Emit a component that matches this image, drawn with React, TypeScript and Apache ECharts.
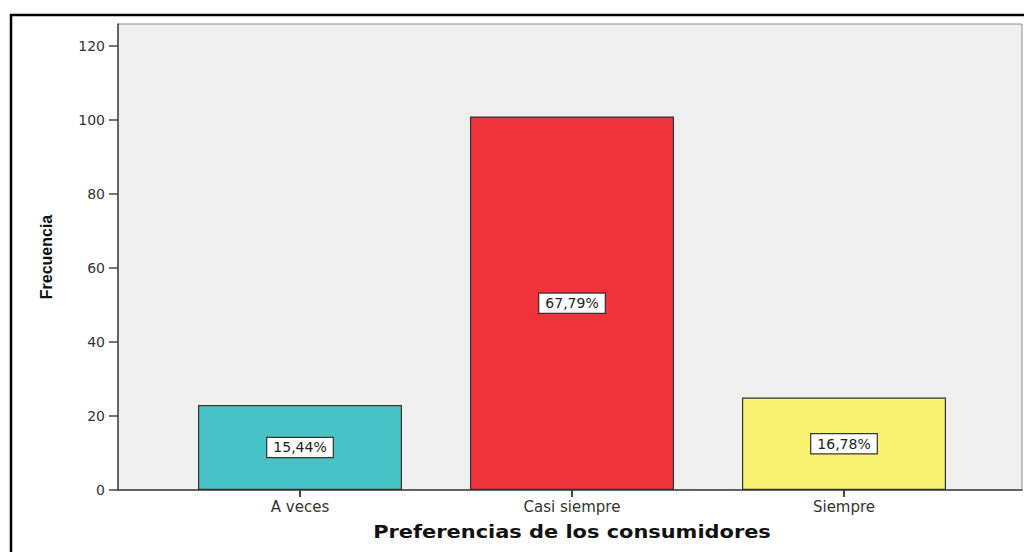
import React, { useEffect, useRef } from "react";
import * as echarts from "echarts";

const categories = ["A veces", "Casi siempre", "Siempre"];
const frequencies = [23, 101, 25];
const percentLabels = ["15,44%", "67,79%", "16,78%"];
const barColors = ["#48c3c5", "#f0323b", "#f8f472"];
const yTicks = [0, 20, 40, 60, 80, 100, 120];
const yMax = 126;
const xTitle = "Preferencias de los consumidores";
const yTitle = "Frecuencia";

export default function App() {
  const ref = useRef<HTMLDivElement>(null);
  useEffect(() => {
    if (!ref.current) return;
    const chart = echarts.init(ref.current, undefined, { renderer: "svg" });
    const font = "'DejaVu Sans', sans-serif";
    chart.setOption({
      animation: false,
      backgroundColor: "#ffffff",
      grid: [
        {
          left: 118,
          top: 24,
          width: 904,
          height: 466,
          show: true,
          backgroundColor: "#efefef",
          borderColor: "#8a8a8a",
          borderWidth: 1,
        },
        { left: 164, top: 24, width: 816, height: 466 },
      ],
      xAxis: [
        {
          type: "category",
          gridIndex: 0,
          data: [""],
          axisLine: { show: true, lineStyle: { color: "#444", width: 1.5 } },
          axisTick: { show: false },
          axisLabel: { show: false },
          splitLine: { show: false },
        },
        {
          type: "category",
          gridIndex: 1,
          data: categories,
          axisLine: { show: false },
          axisTick: {
            show: true,
            alignWithLabel: true,
            length: 7,
            lineStyle: { color: "#444", width: 2 },
          },
          axisLabel: {
            fontFamily: font,
            fontSize: 15,
            color: "#333",
            margin: 9,
          },
        },
      ],
      yAxis: [
        {
          type: "value",
          gridIndex: 0,
          min: 0,
          max: yMax,
          axisLine: { show: true, lineStyle: { color: "#444", width: 1.5 } },
          axisTick: {
            show: true,
            inside: false,
            length: 9,
            customValues: yTicks,
            lineStyle: { color: "#444", width: 1.5 },
          },
          axisLabel: {
            customValues: yTicks,
            fontFamily: font,
            fontSize: 14,
            color: "#333",
            margin: 13,
          },
          splitLine: { show: false },
          name: yTitle,
          nameLocation: "middle",
          nameGap: 64,
          nameTextStyle: {
            fontFamily: "'Liberation Sans Narrow', 'Liberation Sans', Arial, sans-serif",
            fontWeight: "bold",
            fontSize: 16,
            color: "#111",
          },
        },
        {
          type: "value",
          gridIndex: 1,
          min: 0,
          max: yMax,
          show: false,
        },
      ],
      graphic: [
        {
          type: "rect",
          shape: { x: 11, y: 15, width: 1040, height: 560 },
          style: { fill: "none", stroke: "#000", lineWidth: 2.5 },
          silent: true,
        },
        {
          type: "text",
          x: 572,
          y: 532,
          scaleX: 1.23,
          silent: true,
          style: {
            text: xTitle,
            textAlign: "center",
            textVerticalAlign: "middle",
            fontFamily: "'DejaVu Sans', sans-serif",
            fontWeight: "bold",
            fontSize: 17,
            fill: "#111",
          },
        },
      ],
      series: [
        {
          type: "bar",
          xAxisIndex: 1,
          yAxisIndex: 1,
          barWidth: 204,
          data: frequencies.map((v, i) => ({
            value: v,
            itemStyle: { color: barColors[i], borderColor: "#333", borderWidth: 1.2 },
          })),
          label: {
            show: true,
            position: "inside",
            formatter: (p: any) => percentLabels[p.dataIndex],
            fontFamily: font,
            fontSize: 14,
            color: "#222",
            backgroundColor: "#ffffff",
            borderColor: "#333",
            borderWidth: 1.2,
            padding: [3, 6, 2, 6],
          },
        },
      ],
    });
    return () => chart.dispose();
  }, []);
  return (
    <div
      ref={ref}
      style={{ position: "fixed", left: 0, top: 0, width: 1024, height: 552 }}
    />
  );
}
